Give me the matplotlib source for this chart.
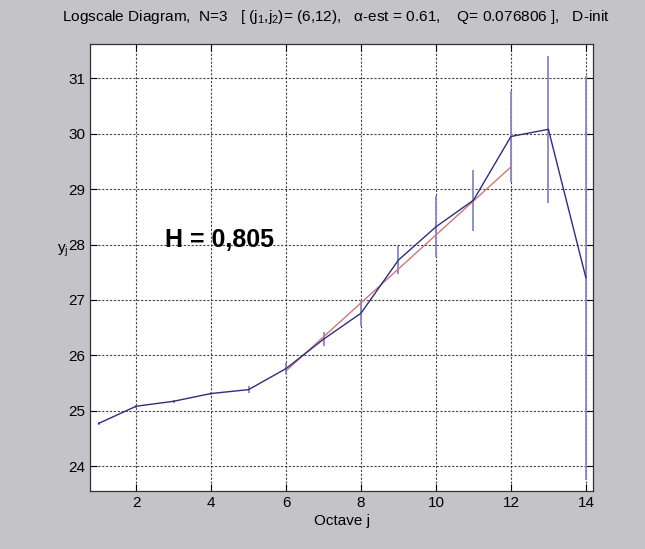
import matplotlib
matplotlib.use('Agg')
import matplotlib.pyplot as plt

plt.rcParams['font.family'] = ['Liberation Sans', 'DejaVu Sans']
plt.rcParams['mathtext.default'] = 'regular'

# octave j, log-scale estimates y_j and their error half-widths
octave = [1, 2, 3, 4, 5, 6, 7, 8, 9, 10, 11, 12, 13, 14]
yj = [24.77, 25.08, 25.17, 25.31, 25.38, 25.76, 26.29, 26.76, 27.72, 28.32,
      28.80, 29.95, 30.08, 27.40]
yerr = [0.02, 0.03, 0.03, 0.03, 0.06, 0.10, 0.13, 0.23, 0.25, 0.55,
        0.55, 0.83, 1.33, 3.65]

# regression line over (j1, j2) = (6, 12)
fit_j = [6, 12]
fit_y = [25.72, 29.40]

fig = plt.figure(figsize=(6.45, 5.49), dpi=100)
fig.patch.set_facecolor('#c4c4c8')
ax = fig.add_axes([90 / 645, 58 / 549, 503 / 645, 447 / 549])
ax.set_facecolor('white')

ax.errorbar(octave, yj, yerr=yerr, fmt='none', ecolor='#8a86c4', elinewidth=1.3, capsize=0)
ax.plot(fit_j, fit_y, color='#d07878', linewidth=1.0)
ax.plot(octave, yj, color='#2e2e7a', linewidth=1.0)

ax.set_xlim(0.77, 14.19)
ax.set_ylim(23.55, 31.62)
ax.set_xticks([2, 4, 6, 8, 10, 12, 14])
ax.set_yticks([24, 25, 26, 27, 28, 29, 30, 31])
ax.grid(True, linestyle=(0, (2, 1.5)), color='#444444', linewidth=0.8)
ax.tick_params(direction='in', top=True, right=True, labelsize=11, length=5, width=0.8)
for s in ax.spines.values():
    s.set_linewidth(0.9)
    s.set_color('#333333')

ax.set_xlabel('Octave j', fontsize=11, labelpad=3)
ax.set_ylabel('y$_j$', fontsize=11, rotation=0, labelpad=2)
ax.yaxis.set_label_coords(-0.055, 0.52)

fig.text(336 / 645, 1 - 17 / 549,
         'Logscale Diagram,  N=3   [ (j$_1$,j$_2$)= (6,12),   $\\alpha$-est = 0.61,    Q= 0.076806 ],   D-init',
         ha='center', va='center', fontsize=11.1)

ax.text(2.77, 28.08, 'H = 0,805', fontsize=18, fontweight='bold', ha='left', va='center')

fig.savefig('out.png', dpi=100, facecolor=fig.get_facecolor())
